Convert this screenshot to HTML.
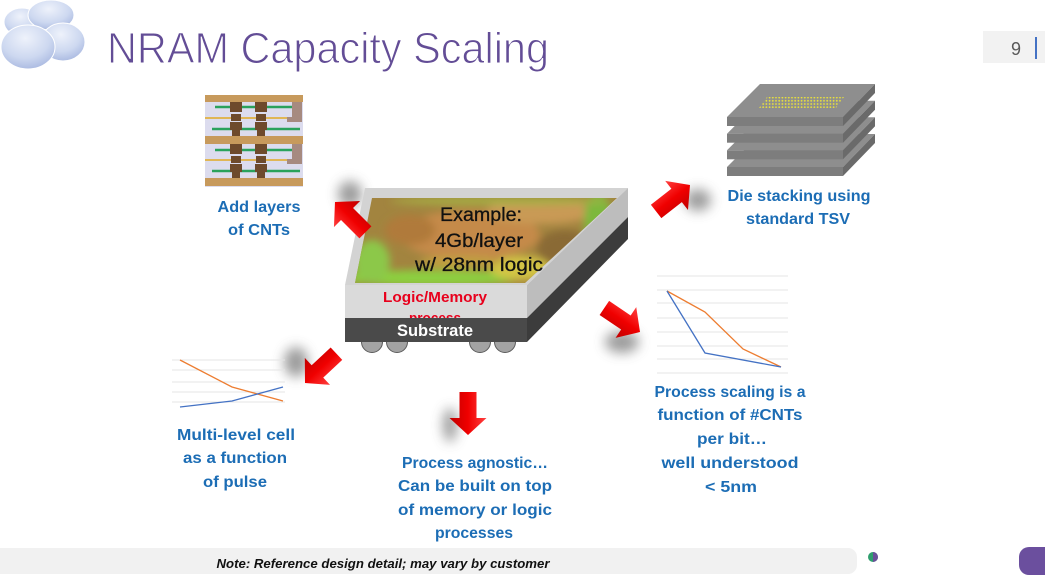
<!DOCTYPE html>
<html><head><meta charset="utf-8"><style>
html,body{margin:0;padding:0;background:#fff;}
svg{display:block;}
text{font-family:"Liberation Sans",Arial,sans-serif;}
</style></head><body>
<svg width="1045" height="577" viewBox="0 0 1045 577" xmlns="http://www.w3.org/2000/svg">
<defs>
  <radialGradient id="cl" cx="0.45" cy="0.3" r="0.75">
    <stop offset="0" stop-color="#eef2fb"/>
    <stop offset="0.6" stop-color="#cdd8f0"/>
    <stop offset="1" stop-color="#a6b6df"/>
  </radialGradient>
  <linearGradient id="red" x1="0" y1="0" x2="0" y2="1">
    <stop offset="0" stop-color="#ff4040"/>
    <stop offset="0.5" stop-color="#f00000"/>
    <stop offset="1" stop-color="#c00000"/>
  </linearGradient>
  <filter id="blur6" x="-1" y="-1" width="3" height="3"><feGaussianBlur stdDeviation="6"/></filter>
  <filter id="blur4" x="-1" y="-1" width="3" height="3"><feGaussianBlur stdDeviation="4"/></filter>
  <clipPath id="chipclip"><polygon points="372,198 617,198 525,283 355,283"/></clipPath>
  <clipPath id="dotclip"><polygon points="767,97 844,97 836,108 759,108"/></clipPath>
  <pattern id="dots" x="0" y="0" width="3.2" height="3.2" patternUnits="userSpaceOnUse">
    <circle cx="1.6" cy="1.6" r="0.9" fill="#e9e23a"/>
  </pattern>
  <g id="arrow"><polygon points="-43,-8.5 -17,-8.5 -17,-18.5 0,0 -17,18.5 -17,8.5 -43,8.5" fill="url(#red)"/></g>
</defs>

<!-- clouds -->
<ellipse cx="22" cy="22" rx="18" ry="14" fill="url(#cl)" stroke="#fff" stroke-width="1"/>
<ellipse cx="51" cy="15" rx="23" ry="15" fill="url(#cl)" stroke="#fff" stroke-width="1"/>
<ellipse cx="63" cy="42" rx="22" ry="19" fill="url(#cl)" stroke="#fff" stroke-width="1"/>
<ellipse cx="28" cy="47" rx="27" ry="22" fill="url(#cl)" stroke="#fff" stroke-width="1"/>

<!-- title -->
<text x="107" y="63" font-size="44" fill="#634d96" stroke="#ffffff" stroke-width="1.1" textLength="442" lengthAdjust="spacingAndGlyphs">NRAM Capacity Scaling</text>

<!-- page number -->
<rect x="983" y="31" width="62" height="32" fill="#f2f2f2"/>
<text x="1016" y="55" font-size="18" fill="#595959" text-anchor="middle">9</text>
<rect x="1035" y="37" width="2" height="22" fill="#4472c4"/>

<!-- CNT layer image -->
<g>
  <rect x="205" y="95" width="98" height="92" fill="#dcdcee"/>
  <rect x="205" y="95" width="98" height="7" fill="#c79a5c"/>
  <rect x="205" y="136" width="98" height="8" fill="#c79a5c"/>
  <rect x="205" y="178" width="98" height="8" fill="#c79a5c"/>
  <g stroke="#2aa25c" stroke-width="2.5">
    <line x1="215" y1="107" x2="292" y2="107"/>
    <line x1="212" y1="129" x2="300" y2="129"/>
    <line x1="215" y1="150" x2="292" y2="150"/>
    <line x1="212" y1="171" x2="300" y2="171"/>
  </g>
  <g stroke="#e0b040" stroke-width="1.8">
    <line x1="205" y1="118" x2="290" y2="118"/>
    <line x1="205" y1="160" x2="290" y2="160"/>
  </g>
  <g fill="#6e4a2c">
    <rect x="230" y="102" width="12" height="10"/><rect x="255" y="102" width="12" height="10"/>
    <rect x="231" y="114" width="10" height="7"/><rect x="256" y="114" width="10" height="7"/>
    <rect x="230" y="122" width="12" height="8"/><rect x="255" y="122" width="12" height="8"/>
    <rect x="232" y="130" width="8" height="6"/><rect x="257" y="130" width="8" height="6"/>
    <rect x="230" y="144" width="12" height="10"/><rect x="255" y="144" width="12" height="10"/>
    <rect x="231" y="156" width="10" height="7"/><rect x="256" y="156" width="10" height="7"/>
    <rect x="230" y="164" width="12" height="8"/><rect x="255" y="164" width="12" height="8"/>
    <rect x="232" y="172" width="8" height="6"/><rect x="257" y="172" width="8" height="6"/>
  </g>
  <g fill="#a68a80">
    <rect x="292" y="102" width="10" height="17"/><rect x="287" y="117" width="15" height="5"/>
    <rect x="292" y="144" width="10" height="17"/><rect x="287" y="159" width="15" height="5"/>
  </g>
</g>

<!-- die stack -->
<g>
  <g transform="translate(0,50)">
    <polygon points="760,84 875,84 843,117 727,117" fill="#8e8e8e"/>
    <rect x="727" y="117" width="116" height="9" fill="#7d7d7d"/>
    <polygon points="843,117 875,84 875,93 843,126" fill="#6a6a6a"/>
  </g>
  <g transform="translate(0,33.3)">
    <polygon points="760,84 875,84 843,117 727,117" fill="#8e8e8e"/>
    <rect x="727" y="117" width="116" height="9" fill="#7d7d7d"/>
    <polygon points="843,117 875,84 875,93 843,126" fill="#6a6a6a"/>
  </g>
  <g transform="translate(0,16.7)">
    <polygon points="760,84 875,84 843,117 727,117" fill="#8e8e8e"/>
    <rect x="727" y="117" width="116" height="9" fill="#7d7d7d"/>
    <polygon points="843,117 875,84 875,93 843,126" fill="#6a6a6a"/>
  </g>
  <g>
    <polygon points="760,84 875,84 843,117 727,117" fill="#8e8e8e"/>
    <rect x="727" y="117" width="116" height="9" fill="#7d7d7d"/>
    <polygon points="843,117 875,84 875,93 843,126" fill="#6a6a6a"/>
  </g>
  <rect x="755" y="95" width="95" height="15" fill="url(#dots)" clip-path="url(#dotclip)"/>
</g>

<!-- arrow shadows -->
<g fill="#8a8a8a" filter="url(#blur6)" opacity="0.85">
  <ellipse cx="350" cy="194" rx="12" ry="13"/>
  <ellipse cx="698" cy="200" rx="13" ry="11"/>
  <ellipse cx="622" cy="342" rx="17" ry="11"/>
  <ellipse cx="296" cy="362" rx="12" ry="15"/>
  <ellipse cx="450" cy="425" rx="7" ry="17"/>
</g>

<!-- chip -->
<g>
  <polygon points="365,188 628,188 527,285 345,285" fill="#d3d3d3"/>
  <polygon points="372,198 617,198 525,283 355,283" fill="#a2843f"/>
  <g clip-path="url(#chipclip)">
    <g filter="url(#blur4)">
      <ellipse cx="470" cy="235" rx="70" ry="25" fill="#c58a48"/>
      <ellipse cx="540" cy="212" rx="55" ry="12" fill="#c99a55"/>
      <ellipse cx="430" cy="278" rx="90" ry="8" fill="#8cd040"/>
      <ellipse cx="372" cy="262" rx="18" ry="22" fill="#8cc848"/>
      <ellipse cx="598" cy="222" rx="14" ry="30" fill="#7db83e"/>
      <ellipse cx="520" cy="268" rx="30" ry="12" fill="#d3c444"/>
      <ellipse cx="565" cy="248" rx="28" ry="18" fill="#8a6a34"/>
      <ellipse cx="500" cy="201" rx="110" ry="4" fill="#a6b045"/>
      <ellipse cx="410" cy="230" rx="25" ry="15" fill="#b07a3a"/>
      <ellipse cx="460" cy="262" rx="40" ry="6" fill="#c0a040"/>
    </g>
  </g>
  <polygon points="527,285 628,188 628,217 527,318" fill="#bdbdbd"/>
  <rect x="345" y="285" width="182" height="33" fill="#dadada"/>
  <text x="435" y="323" font-size="14.5" font-weight="bold" fill="#e8001c" text-anchor="middle" textLength="52" lengthAdjust="spacingAndGlyphs">process</text>
  <g fill="#a3a3a3" stroke="#5a5a5a" stroke-width="1">
    <circle cx="372" cy="342" r="10.5"/>
    <circle cx="397" cy="342" r="10.5"/>
    <circle cx="480" cy="342" r="10.5"/>
    <circle cx="505" cy="342" r="10.5"/>
  </g>
  <rect x="345" y="318" width="182" height="24" fill="#4a4a4a"/>
  <polygon points="527,318 628,217 628,239 527,342" fill="#3c3c3c"/>
  <text x="481" y="221" font-size="19" fill="#111" stroke="#111" stroke-width="0.3" text-anchor="middle" textLength="82" lengthAdjust="spacingAndGlyphs">Example:</text>
  <text x="479" y="247" font-size="19" fill="#111" stroke="#111" stroke-width="0.3" text-anchor="middle" textLength="88" lengthAdjust="spacingAndGlyphs">4Gb/layer</text>
  <text x="479" y="271" font-size="19" fill="#111" stroke="#111" stroke-width="0.3" text-anchor="middle" textLength="128" lengthAdjust="spacingAndGlyphs">w/ 28nm logic</text>
  <text x="435" y="302" font-size="14.5" font-weight="bold" fill="#e8001c" text-anchor="middle" textLength="104" lengthAdjust="spacingAndGlyphs">Logic/Memory</text>
  <text x="435" y="336" font-size="17" font-weight="bold" fill="#ffffff" text-anchor="middle" textLength="76" lengthAdjust="spacingAndGlyphs">Substrate</text>
</g>

<!-- arrows (on top) -->
<use href="#arrow" transform="translate(335,202) rotate(-135)"/>
<use href="#arrow" transform="translate(690,185) rotate(-38)"/>
<use href="#arrow" transform="translate(640,332) rotate(34)"/>
<use href="#arrow" transform="translate(305,383) rotate(137)"/>
<use href="#arrow" transform="translate(468,435) rotate(90)"/>

<!-- left chart -->
<g stroke="#e4e4e4" stroke-width="1">
  <line x1="172" y1="360" x2="285" y2="360"/>
  <line x1="172" y1="370" x2="285" y2="370"/>
  <line x1="172" y1="382" x2="285" y2="382"/>
  <line x1="172" y1="392" x2="285" y2="392"/>
  <line x1="172" y1="402" x2="285" y2="402"/>
</g>
<polyline points="180,360 232,387 283,401" fill="none" stroke="#ed7d31" stroke-width="1.3"/>
<polyline points="180,407 232,401 283,387" fill="none" stroke="#4472c4" stroke-width="1.3"/>

<!-- right chart -->
<g stroke="#e4e4e4" stroke-width="1">
  <line x1="657" y1="276" x2="788" y2="276"/>
  <line x1="657" y1="290" x2="788" y2="290"/>
  <line x1="657" y1="303" x2="788" y2="303"/>
  <line x1="657" y1="318" x2="788" y2="318"/>
  <line x1="657" y1="332" x2="788" y2="332"/>
  <line x1="657" y1="346" x2="788" y2="346"/>
  <line x1="657" y1="359" x2="788" y2="359"/>
  <line x1="657" y1="373" x2="788" y2="373"/>
</g>
<polyline points="667,291 705,312 743,349 781,367" fill="none" stroke="#ed7d31" stroke-width="1.3"/>
<polyline points="667,291 705,353 781,367" fill="none" stroke="#4472c4" stroke-width="1.3"/>

<!-- labels -->
<g font-size="16" font-weight="bold" fill="#1c6db5" text-anchor="middle">
  <text x="259" y="212" textLength="83" lengthAdjust="spacingAndGlyphs">Add layers</text>
  <text x="259" y="235" textLength="62" lengthAdjust="spacingAndGlyphs">of CNTs</text>

  <text x="799" y="201" textLength="143" lengthAdjust="spacingAndGlyphs">Die stacking using</text>
  <text x="798" y="224" textLength="104" lengthAdjust="spacingAndGlyphs">standard TSV</text>

  <text x="236" y="440" textLength="118" lengthAdjust="spacingAndGlyphs">Multi-level cell</text>
  <text x="235" y="463" textLength="104" lengthAdjust="spacingAndGlyphs">as a function</text>
  <text x="235" y="487" textLength="64" lengthAdjust="spacingAndGlyphs">of pulse</text>

  <text x="475" y="468" textLength="146" lengthAdjust="spacingAndGlyphs">Process agnostic…</text>
  <text x="475" y="491" textLength="154" lengthAdjust="spacingAndGlyphs">Can be built on top</text>
  <text x="475" y="515" textLength="154" lengthAdjust="spacingAndGlyphs">of memory or logic</text>
  <text x="474" y="538" textLength="78" lengthAdjust="spacingAndGlyphs">processes</text>

  <text x="730" y="397" textLength="151" lengthAdjust="spacingAndGlyphs">Process scaling is a</text>
  <text x="730" y="420" textLength="145" lengthAdjust="spacingAndGlyphs">function of #CNTs</text>
  <text x="732" y="444" textLength="70" lengthAdjust="spacingAndGlyphs">per bit…</text>
  <text x="730" y="468" textLength="137" lengthAdjust="spacingAndGlyphs">well understood</text>
  <text x="731" y="492" textLength="52" lengthAdjust="spacingAndGlyphs">&lt; 5nm</text>
</g>

<!-- bottom bar -->
<rect x="-12" y="548" width="869" height="26" rx="9" fill="#f1f1f1"/>
<text x="383" y="568" font-size="13" font-style="italic" font-weight="bold" fill="#111" text-anchor="middle" textLength="333" lengthAdjust="spacingAndGlyphs">Note: Reference design detail; may vary by customer</text>
<circle cx="873" cy="557" r="5" fill="#2f9e6e"/>
<path d="M873,552 A5,5 0 0 1 873,562 Z" fill="#6a4f9a"/>
<rect x="1019" y="547" width="40" height="28" rx="10" fill="#6b4f9e"/>
</svg>
</body></html>
